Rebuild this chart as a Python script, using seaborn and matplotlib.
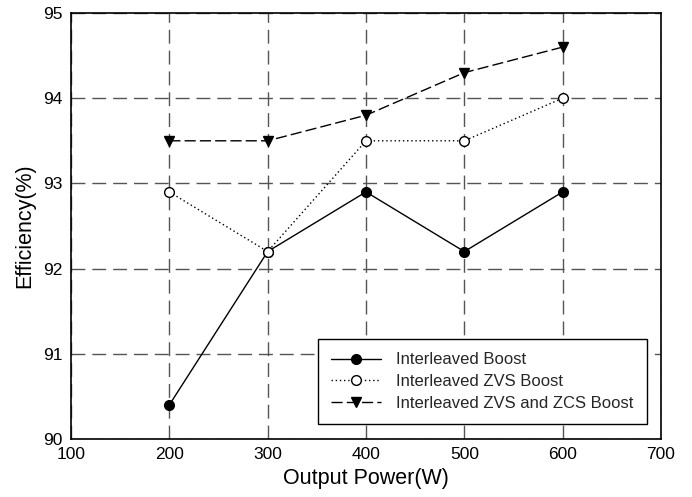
import matplotlib
matplotlib.use("Agg")
import matplotlib.pyplot as plt
import seaborn as sns
import pandas as pd

power = [200, 300, 400, 500, 600]
boost = [90.4, 92.2, 92.9, 92.2, 92.9]
zvs_boost = [92.9, 92.2, 93.5, 93.5, 94.0]
zvs_zcs_boost = [93.5, 93.5, 93.8, 94.3, 94.6]
series_names = ["Interleaved Boost", "Interleaved ZVS Boost", "Interleaved ZVS and ZCS Boost"]

sns.set_theme(style="white")
plt.rcParams['font.family'] = ['Liberation Sans', 'DejaVu Sans']

fig = plt.figure(figsize=(6.92, 4.97), dpi=100)
ax = fig.add_axes([71/692, 1 - 439/497, (661-71)/692, (439-13)/497])

styles = [
    dict(linestyle='-', marker='o', markerfacecolor='black', markeredgecolor='black'),
    dict(linestyle=(0, (1, 2)), marker='o', markerfacecolor='white', markeredgecolor='black'),
    dict(linestyle=(0, (8, 3)), marker='v', markerfacecolor='black', markeredgecolor='black'),
]
for name, vals, st in zip(series_names, [boost, zvs_boost, zvs_zcs_boost], styles):
    df = pd.DataFrame({"x": power, "y": vals})
    sns.lineplot(data=df, x="x", y="y", ax=ax, color='black', linewidth=1,
                 markersize=7, markeredgewidth=1, label=name, **st)

ax.set_xlim(100, 700)
ax.set_ylim(90, 95)
ax.set_xticks([100, 200, 300, 400, 500, 600, 700])
ax.set_yticks([90, 91, 92, 93, 94, 95])
ax.grid(True, color='#555555', linestyle=(0, (10, 5)), linewidth=1)
ax.set_axisbelow(True)
for s in ax.spines.values():
    s.set_color('black')
    s.set_linewidth(1.2)
ax.tick_params(axis='both', labelsize=12.5, colors='black', length=0, pad=6)
ax.set_xlabel("Output Power(W)", fontsize=15.5, color='black', labelpad=4)
ax.set_ylabel("Efficiency(%)", fontsize=15.5, color='black', labelpad=6)

leg = ax.legend(loc='lower right', bbox_to_anchor=(0.976, 0.035), fontsize=12, frameon=True,
                fancybox=False, edgecolor='black', framealpha=1, handlelength=3.0,
                borderpad=0.8, labelspacing=0.4, handletextpad=0.9, borderaxespad=0)
leg.get_frame().set_linewidth(1)

fig.savefig("out.png", dpi=100)
